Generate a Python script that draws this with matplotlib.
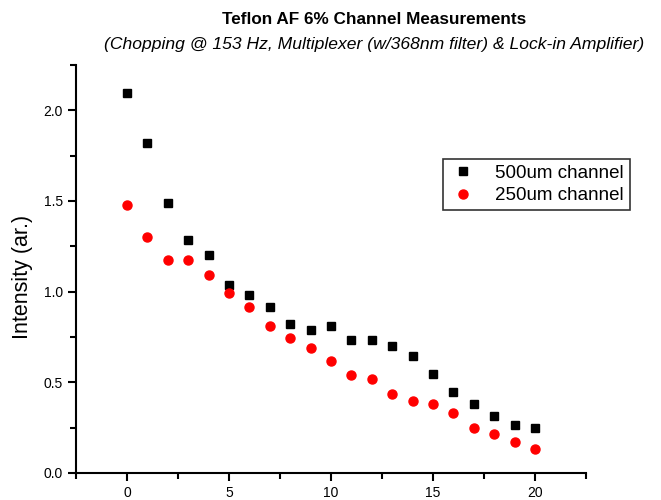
import matplotlib.pyplot as plt
from matplotlib.ticker import MultipleLocator

plt.rcParams['font.family'] = ['Liberation Sans', 'DejaVu Sans']

channel = list(range(21))
ch500 = [2.093, 1.819, 1.489, 1.286, 1.203, 1.038, 0.984, 0.918, 0.819, 0.786, 0.808,
         0.731, 0.736, 0.703, 0.643, 0.544, 0.445, 0.379, 0.313, 0.264, 0.247]
ch250 = [1.478, 1.302, 1.176, 1.176, 1.093, 0.995, 0.918, 0.813, 0.742, 0.692, 0.615,
         0.538, 0.516, 0.434, 0.396, 0.379, 0.330, 0.247, 0.214, 0.170, 0.132]

fig = plt.figure(figsize=(6.61, 5.0), dpi=100)
ax = fig.add_axes([0.115, 0.054, 0.7715, 0.816])

ax.plot(channel, ch500, 's', color='black', markersize=6, markeredgecolor='black',
        label='500um channel', linestyle='none')
ax.plot(channel, ch250, 'o', color='red', markersize=6.5, markeredgecolor='red',
        label='250um channel', linestyle='none')

ax.set_xlim(-2.5, 22.5)
ax.set_ylim(0, 2.25)
ax.xaxis.set_major_locator(MultipleLocator(5))
ax.xaxis.set_minor_locator(MultipleLocator(2.5))
ax.yaxis.set_major_locator(MultipleLocator(0.5))
ax.yaxis.set_minor_locator(MultipleLocator(0.25))
ax.yaxis.set_major_formatter(plt.FormatStrFormatter('%.1f'))
ax.spines['top'].set_visible(False)
ax.spines['right'].set_visible(False)
for s in ['left', 'bottom']:
    ax.spines[s].set_linewidth(1.5)
ax.tick_params(which='major', direction='out', length=6, width=1.5, labelsize=10)
ax.tick_params(which='minor', direction='out', length=4, width=1.5)
ax.set_ylabel('Intensity (ar.)', fontsize=15.5, va='center')
ax.yaxis.set_label_coords(-0.105, 0.48)

fig.text(0.566, 0.962, 'Teflon AF 6% Channel Measurements', ha='center', va='center',
         fontsize=12.3, fontweight='bold')
fig.text(0.566, 0.912, '(Chopping @ 153 Hz, Multiplexer (w/368nm filter) & Lock-in Amplifier)',
         ha='center', va='center', fontsize=12.6, style='italic')

leg = fig.legend(loc='upper left', bbox_to_anchor=(0.67, 0.682), fontsize=13.5,
                 frameon=True, fancybox=False, edgecolor='black', borderpad=0.3,
                 borderaxespad=0, handletextpad=0.9, labelspacing=0.3, handlelength=1.6)
leg.get_frame().set_linewidth(1.2)

fig.savefig('out.png', dpi=100)
